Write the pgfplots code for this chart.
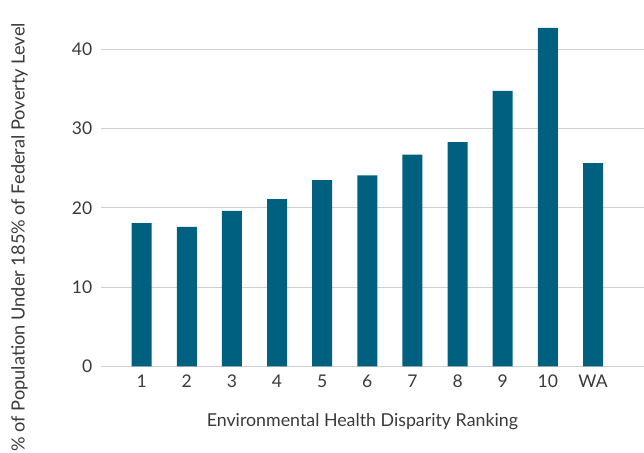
\documentclass[border=0pt]{standalone}
\usepackage{pgfplots}
\pgfplotsset{compat=1.18}
\usepackage{fontspec}
\setmainfont{Lato}
\definecolor{barblue}{HTML}{00607F}
\definecolor{txt}{HTML}{3A3A3A}
\definecolor{gridc}{HTML}{CFCFCF}
\begin{document}
\begin{tikzpicture}
\begin{axis}[
  name=ax,
  scale only axis,
  width=543.3bp, height=366.3bp,
  xmin=0.093, xmax=12.13,
  ymin=0, ymax=46.22,
  axis line style={draw=none},
  ymajorgrids,
  grid style={gridc, line width=0.9pt},
  xtick={1,...,11},
  xticklabels={1,2,3,4,5,6,7,8,9,10,WA},
  ytick={0,10,20,30,40},
  major tick length=0pt,
  tick style={draw=none},
  /pgf/number format/assume math mode=true,
  tick label style={font=\fontsize{17.5bp}{20bp}\selectfont, text=txt},
  yticklabel style={anchor=east, xshift=-5bp},
  xticklabel style={anchor=base, yshift=-21bp},
  xlabel={Environmental Health Disparity Ranking},
  ylabel={\% of Population Under 185\% of Federal Poverty Level},
  every axis x label/.style={at={(axis description cs:0.4816,-0.165)}, anchor=base, font=\fontsize{17.8bp}{22bp}\selectfont, text=txt},
  every axis y label/.style={at={(axis description cs:-0.14,0.352)}, rotate=90, anchor=base, font=\fontsize{18.2bp}{22bp}\selectfont, text=txt},
  clip=false,
]
\addplot[ybar, bar width=20bp, bar shift=0pt, fill=barblue, draw=none]
  coordinates {(1,18.08) (2,17.58) (3,19.6) (4,21.1) (5,23.5) (6,24.1) (7,26.7) (8,28.3) (9,34.74) (10,42.69) (11,25.65)};
\end{axis}
\pgfresetboundingbox
\path[use as bounding box] ([shift={(-100.7bp,-86.7bp)}]ax.south west) rectangle (ax.north east);
\end{tikzpicture}
\end{document}
